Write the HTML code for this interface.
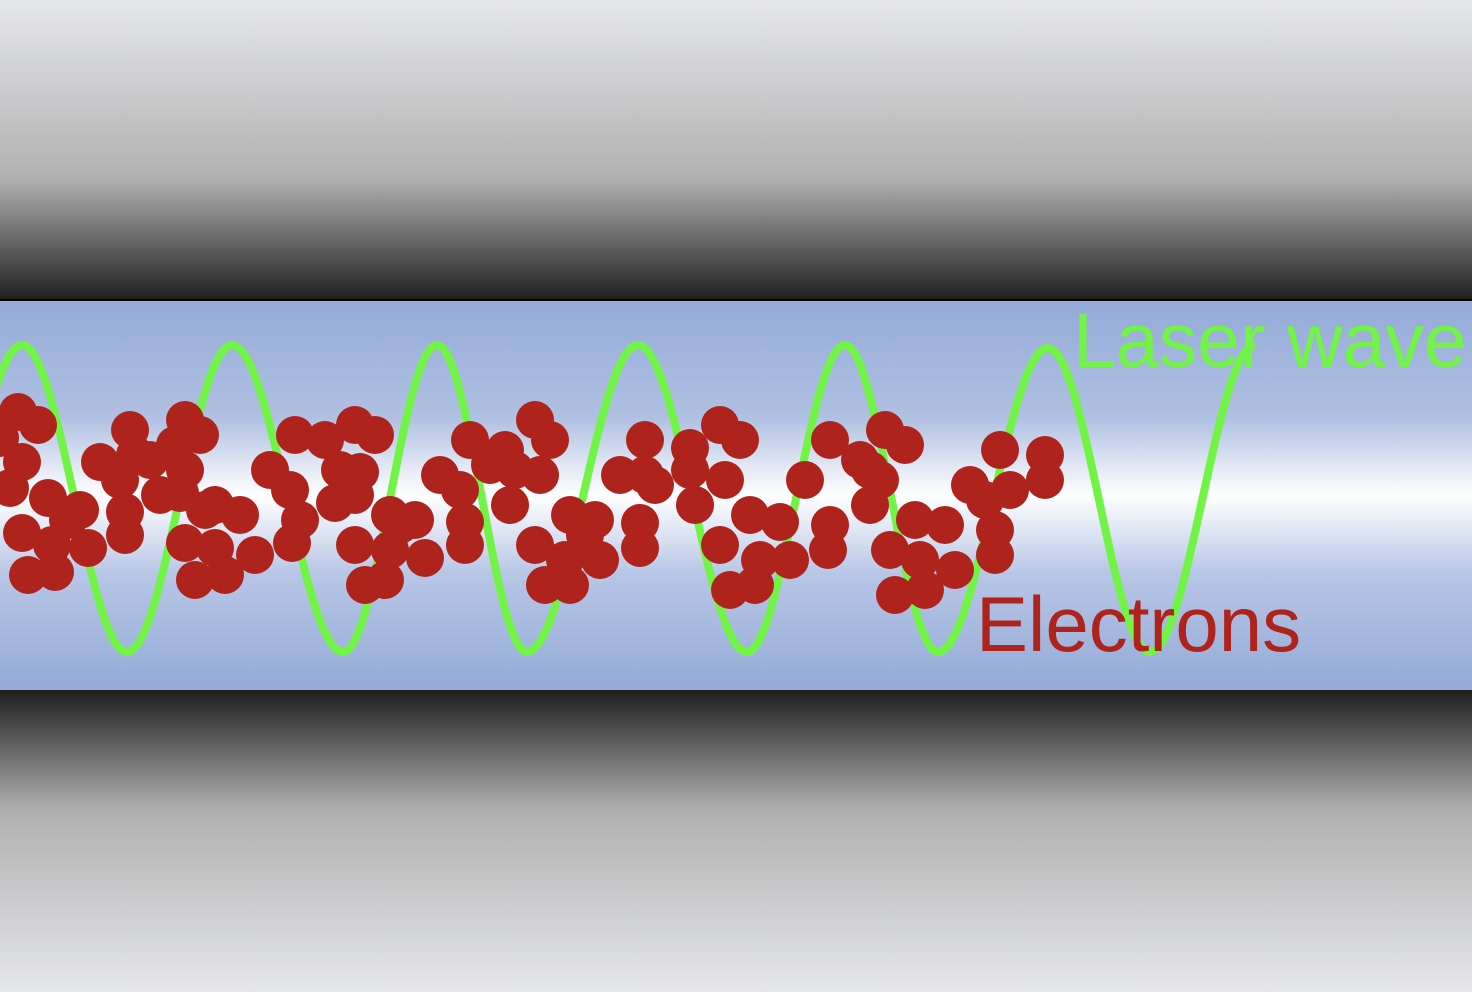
<!DOCTYPE html>
<html><head><meta charset="utf-8">
<style>
html,body{margin:0;padding:0;width:1472px;height:992px;overflow:hidden;}
svg{display:block;}
</style></head>
<body>
<svg width="1472" height="992" viewBox="0 0 1472 992">
<defs>
<linearGradient id="gTop" x1="0" y1="0" x2="0" y2="1">
<stop offset="0" stop-color="#e6e7ea"/><stop offset="0.6" stop-color="#b0b0b0"/><stop offset="1" stop-color="#1e1e1e"/>
</linearGradient>
<linearGradient id="gBot" x1="0" y1="0" x2="0" y2="1">
<stop offset="0" stop-color="#1e1e1e"/><stop offset="0.4" stop-color="#b0b0b0"/><stop offset="1" stop-color="#e6e7ea"/>
</linearGradient>
<linearGradient id="gMid" x1="0" y1="0" x2="0" y2="1">
<stop offset="0" stop-color="#94aad7"/><stop offset="0.3" stop-color="#b0c0e2"/><stop offset="0.5" stop-color="#ffffff"/><stop offset="0.7" stop-color="#b8c6e6"/><stop offset="1" stop-color="#94aad7"/>
</linearGradient>
</defs>
<rect x="0" y="0" width="1472" height="300" fill="url(#gTop)"/>
<rect x="0" y="299" width="1472" height="2" fill="#000"/>
<rect x="0" y="301" width="1472" height="389" fill="url(#gMid)"/>
<rect x="0" y="690" width="1472" height="302" fill="url(#gBot)"/>
<path id="wave" fill="none" stroke="#72f446" stroke-width="8"/>
<g id="dots"></g>
<text x="1073" y="367" font-family="Liberation Sans, sans-serif" font-size="77" fill="#72f446">Laser wave</text>
<text x="976" y="651" font-family="Liberation Sans, sans-serif" font-size="78" fill="#ae231b">Electrons</text>
</svg>
<script>
const waveX = [-85, 22, 127, 232, 343, 437, 527, 638, 747, 845, 938, 1048, 1150, 1255];
const waveY = [652, 345, 652, 345, 652, 345, 652, 345, 652, 345, 652, 348, 652, 345];
const eX = [18,38,0,22,10,48,80,22,52,88,28,55,130,150,100,120,125,125,160,185,200,175,185,180,215,240,185,215,255,195,225,295,325,355,375,270,290,300,292,340,360,335,355,355,365,390,415,390,425,385,440,460,470,505,535,550,515,540,510,465,465,535,570,595,565,600,570,545,645,690,620,655,690,720,740,725,695,640,640,720,750,780,760,790,730,755,805,830,860,885,905,880,830,828,870,890,915,945,920,955,895,925,970,1000,1010,985,995,995,1045,1045,68,205,135,400,490,585,870,645];
const eY = [412,425,438,462,488,498,510,533,545,548,575,572,430,460,462,480,512,535,495,420,435,445,470,493,505,515,543,548,555,580,575,435,440,425,435,470,490,520,543,470,472,503,495,545,585,515,520,550,558,580,475,490,440,450,420,440,470,475,505,522,545,545,515,520,560,560,585,585,440,448,475,485,470,425,440,480,505,523,548,545,515,522,560,560,590,585,480,440,460,430,445,480,525,550,505,550,520,525,560,570,595,590,485,450,490,500,530,555,455,480,520,510,455,525,465,535,470,475];
const wave = document.getElementById('wave');
let d = '';
for (let i = 0; i < waveX.length - 1; i++) {
  const x0 = waveX[i], x1 = waveX[i+1], y0 = waveY[i], y1 = waveY[i+1];
  for (let k = 0; k <= 30; k++) {
    const t = k / 30;
    const x = x0 + (x1 - x0) * t;
    const y = y0 + (y1 - y0) * (1 - Math.cos(Math.PI * t)) / 2;
    d += (d ? ' L' : 'M') + x.toFixed(1) + ' ' + y.toFixed(1);
  }
}
wave.setAttribute('d', d);
const g = document.getElementById('dots');
for (let i = 0; i < eX.length; i++) {
  const c = document.createElementNS('http://www.w3.org/2000/svg', 'circle');
  c.setAttribute('cx', eX[i]);
  c.setAttribute('cy', eY[i]);
  c.setAttribute('r', 19);
  c.setAttribute('fill', '#ae231b');
  
  
  g.appendChild(c);
}
</script>
</body></html>
